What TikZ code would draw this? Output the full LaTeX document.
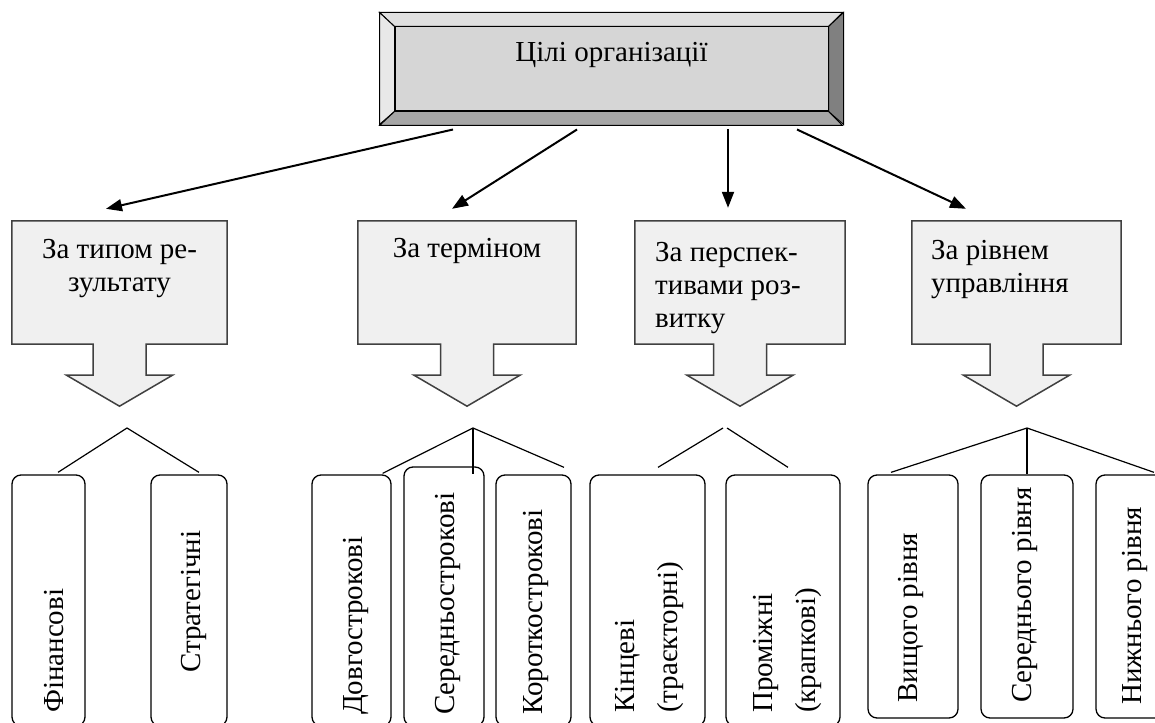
\documentclass[tikz,border=0pt]{standalone}
\usepackage{fontspec}
\setmainfont{Liberation Serif}
\usepackage{tikz}
\usetikzlibrary{arrows.meta}

\begin{document}
\begin{tikzpicture}[
        x=1pt, y=-1pt,
        face/.style={draw=black, line width=1pt, fill=black!16, minimum width=433pt, minimum height=84pt, inner sep=0pt, font=\fontsize{29}{33}\selectfont, text height=20pt, text depth=34pt},
        bevel/.style={draw=black, line width=1pt},
        catbox/.style={minimum height=123pt, inner sep=0pt},
        catshape/.style={draw=black!75, fill=black!6, line width=1.5pt},
        cattext/.style={inner sep=0pt, font=\fontsize{29}{33}\selectfont},
        leaf/.style={draw=black, line width=1.3pt, fill=white, rounded corners=9pt, inner sep=0pt},
        leaftext/.style={rotate=90, inner sep=0pt, anchor=base west, font=\fontsize{29}{43}\selectfont},
        arrow/.style={-{Triangle[length=16pt, width=12pt]}, line width=2pt},
        branch/.style={line width=1.2pt}
      ]
        \clip (0,0) rectangle (1155,722);
        \fill[white] (0,0) rectangle (1155,722);

        % top block
        \node[face] (goal) at (611.5,69) {Цілі організації};
        \draw[bevel, fill=black!12] (goal.north west) -- ++(-15,-14) -- ++(463,0) -- (goal.north east) -- cycle;
        \draw[bevel, fill=black!9] (goal.north west) -- ++(-15,-14) -- ++(0,112) -- (goal.south west) -- cycle;
        \draw[bevel, fill=black!50] (goal.north east) -- ++(15,-14) -- ++(0,112) -- (goal.south east) -- cycle;
        \draw[bevel, fill=black!35] (goal.south west) -- ++(-15,14) -- ++(463,0) -- (goal.south east) -- cycle;

        % classification boxes
        \node[catbox, minimum width=215pt] (result) at (119.5,282.5) {};
        \node[catbox, minimum width=218pt] (term) at (467,282.5) {};
        \node[catbox, minimum width=210pt] (persp) at (740,282.5) {};
        \node[catbox, minimum width=209pt] (level) at (1016.5,282.5) {};
        \foreach \cname in {result,term,persp,level}
          \draw[catshape] (\cname.north west) -- (\cname.north east) -- (\cname.south east)
            -- ([xshift=26.5pt]\cname.south) -- ++(0,31) -- ++(26.5,0) -- ++(-53,31)
            -- ++(-53,-31) -- ++(26.5,0) -- ++(0,-31) -- (\cname.south west) -- cycle;
        \node[cattext, anchor=north, align=center] (resulttxt) at (119.5,239.5) {За типом ре-\\зультату};
        \node[cattext, anchor=north] (termtxt) at (467,238.5) {За терміном};
        \node[cattext, anchor=north west, align=left] (persptxt) at (655,242) {За перспек-\\тивами роз-\\витку};
        \node[cattext, anchor=north west, align=left] (leveltxt) at (931,240) {За рівнем\\управління};

        \draw[arrow] ([xshift=-158.5pt,yshift=-18pt]goal.south) -- ([xshift=-13.5pt,yshift=12pt]result.north);
        \draw[arrow] ([xshift=-34.5pt,yshift=-18pt]goal.south) -- ([xshift=-15pt,yshift=12pt]term.north);
        \draw[arrow] ([xshift=116.5pt,yshift=-18pt]goal.south) -- ([xshift=-12pt,yshift=13pt]persp.north);
        \draw[arrow] ([xshift=185.5pt,yshift=-18pt]goal.south) -- ([xshift=-50.5pt,yshift=12pt]level.north);

        % goals of each kind
        \node[leaf, minimum width=73pt, minimum height=251pt] (fin) at (48.5,600.5) {};
        \node[leaf, minimum width=76pt, minimum height=251pt] (strat) at (189,600.5) {};
        \node[leaf, minimum width=79pt, minimum height=251pt] (long) at (351.5,600.5) {};
        \node[leaf, minimum width=80pt, minimum height=259pt] (medium) at (444,596.5) {};
        \node[leaf, minimum width=75pt, minimum height=251pt] (short) at (533.5,600.5) {};
        \node[leaf, minimum width=115pt, minimum height=251pt] (final) at (647.5,600.5) {};
        \node[leaf, minimum width=114pt, minimum height=251pt] (inter) at (783,600.5) {};
        \node[leaf, minimum width=90pt, minimum height=243pt] (upper) at (913,596.5) {};
        \node[leaf, minimum width=92pt, minimum height=243pt] (middle) at (1027,596.5) {};
        \node[leaf, minimum width=90pt, minimum height=243pt] (lower) at (1141,596.5) {};

        \node[leaftext] (fintxt) at (63,713) {Фінансові};
        \node[leaftext] (strattxt) at (200,673) {Стратегічні};
        \node[leaftext] (longtxt) at (362,715) {Довгострокові};
        \node[leaftext] (mediumtxt) at (454,715) {Середньострокові};
        \node[leaftext] (shorttxt) at (542,715) {Короткострокові};
        \node[leaftext, anchor=west, align=left] (finaltxt) at (649.5,713) {Кінцеві\\(траєкторні)};
        \node[leaftext, anchor=west, align=left] (intertxt) at (787,713) {Проміжні\\(крапкові)};
        \node[leaftext] (uppertxt) at (917,703) {Вищого рівня};
        \node[leaftext] (middletxt) at (1031,703) {Середнього рівня};
        \node[leaftext] (lowertxt) at (1141,705) {Нижнього рівня};

        % branches
        \coordinate (fork1) at (127,428);
        \draw[branch] ([xshift=9.5pt,yshift=2pt]fin.north) -- (fork1) -- ([xshift=10pt,yshift=2pt]strat.north);
        \coordinate (fork2) at (473,428);
        \draw[branch] ([xshift=-9pt,yshift=1pt]long.north east) -- (fork2) -- ([xshift=30.5pt,yshift=7pt]short.north);
        \draw[branch] (fork2) -- (fork2 |- long.north);
        \coordinate (fork3l) at (723,428);
        \coordinate (fork3r) at (727,428);
        \draw[branch] ([xshift=10.5pt,yshift=7pt]final.north) -- (fork3l);
        \draw[branch] (fork3r) -- ([xshift=5pt,yshift=7pt]inter.north);
        \coordinate (fork4) at (1027,428);
        \draw[branch] ([xshift=-22pt,yshift=2pt]upper.north) -- (fork4) -- ([xshift=13pt,yshift=2pt]lower.north);
        \draw[branch] (fork4) -- (middle.north);
      \end{tikzpicture}
\end{document}
